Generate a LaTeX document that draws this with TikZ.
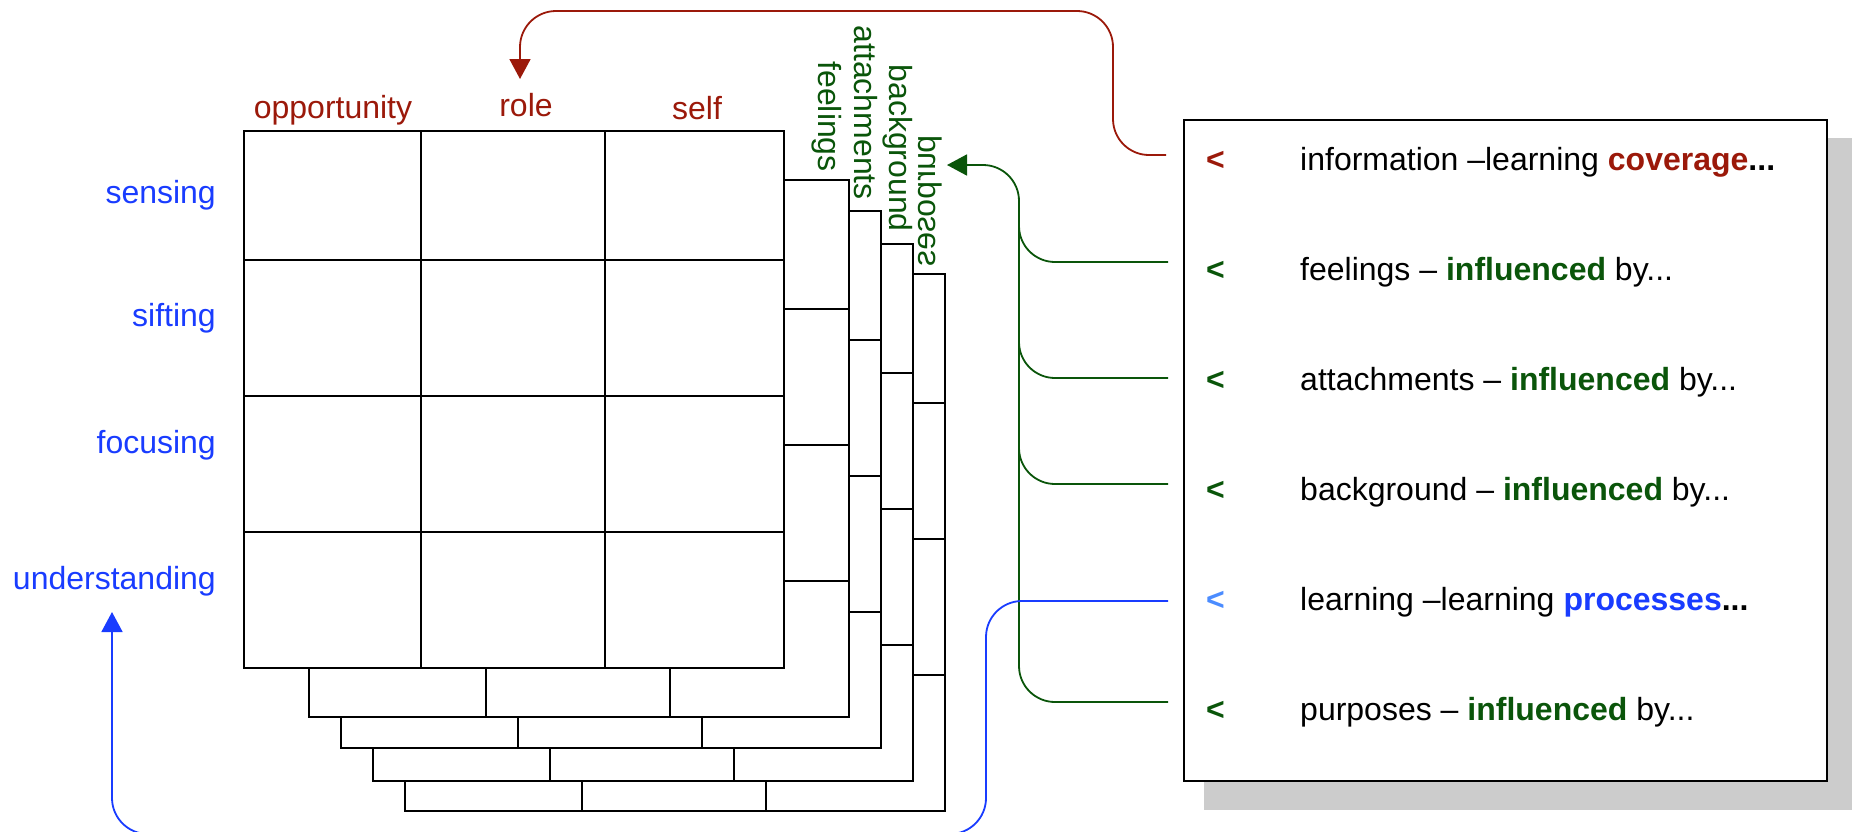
\documentclass[tikz,border=0pt]{standalone}
\usepackage{fontspec}
\setmainfont{Liberation Sans}
\usetikzlibrary{arrows.meta}
\definecolor{dred}{RGB}{155,25,10}
\definecolor{dgreen}{RGB}{10,85,10}
\definecolor{myblue}{RGB}{25,60,255}
\definecolor{lblue}{RGB}{75,140,255}
\definecolor{shadowgray}{RGB}{204,204,204}
\begin{document}
\begin{tikzpicture}[x=1pt,y=-1pt,
  gl/.style={line width=1.6pt, black},
  lbl/.style={font=\fontsize{32}{38}\selectfont, inner sep=0pt},
  conn/.style={line width=1.8pt, rounded corners=36pt},
  tip/.style={-{Triangle[length=20pt,width=21pt]}}]
\useasboundingbox (0,0) rectangle (1852,831);

% stacked grids, back to front
\foreach \ox/\oy in {405/274, 373/244, 341/211, 309/180, 244/131} {
  \begin{scope}[shift={(\ox,\oy)}]
    \filldraw[gl, fill=white] (0,0) rectangle (540,537);
    \draw[gl] (177,0) -- (177,537) (361,0) -- (361,537)
              (0,129) -- (540,129) (0,265) -- (540,265) (0,401) -- (540,401);
  \end{scope}
}

% column labels
\node[lbl, text=dred, anchor=base] (opp) at (333,118) {opportunity};
\node[lbl, text=dred, anchor=base] (role) at (526,116) {role};
\node[lbl, text=dred, anchor=base] (self) at (697,119) {self};

% row labels
\node[lbl, text=myblue, anchor=base east] (sens) at (216,203) {sensing};
\node[lbl, text=myblue, anchor=base east] (sift) at (216,326) {sifting};
\node[lbl, text=myblue, anchor=base east] (focu) at (216,453) {focusing};
\node[lbl, text=myblue, anchor=base east] (unde) at (216,589) {understanding};

% layer labels
\node[lbl, text=dgreen, rotate=-90, anchor=east] (feel) at (827,172) {feelings};
\node[lbl, text=dgreen, rotate=-90, anchor=east] (atta) at (866,200) {attachments};
\node[lbl, text=dgreen, rotate=-90, anchor=east] (back) at (898,232) {background};
\node[lbl, text=dgreen, rotate=-90, yscale=-1, anchor=east] (purp) at (930,267) {purposes};

% legend box
\fill[shadowgray] (1204,138) rectangle (1852,810);
\node[draw, line width=1.6pt, fill=white, minimum width=643pt, minimum height=661pt,
      inner sep=0pt, anchor=north west] (box) at (1183,119) {};

\node[lbl, anchor=base west, text=dred] (m1) at (1206,170) {\bfseries <};
\node[lbl, anchor=base west] (t1) at (1300,170) {information –learning \textcolor{dred}{\bfseries coverage}\textbf{...}};
\node[lbl, anchor=base west, text=dgreen] (m2) at (1206,280) {\bfseries <};
\node[lbl, anchor=base west] (t2) at (1300,280) {feelings – \textcolor{dgreen}{\bfseries influenced} by...};
\node[lbl, anchor=base west, text=dgreen] (m3) at (1206,390) {\bfseries <};
\node[lbl, anchor=base west] (t3) at (1300,390) {attachments – \textcolor{dgreen}{\bfseries influenced} by...};
\node[lbl, anchor=base west, text=dgreen] (m4) at (1206,500) {\bfseries <};
\node[lbl, anchor=base west] (t4) at (1300,500) {background – \textcolor{dgreen}{\bfseries influenced} by...};
\node[lbl, anchor=base west, text=lblue] (m5) at (1206,610) {\bfseries <};
\node[lbl, anchor=base west] (t5) at (1300,610) {learning –learning \textcolor{myblue}{\bfseries processes}\textbf{...}};
\node[lbl, anchor=base west, text=dgreen] (m6) at (1206,720) {\bfseries <};
\node[lbl, anchor=base west] (t6) at (1300,720) {purposes – \textcolor{dgreen}{\bfseries influenced} by...};

% connector ends
\coordinate (rs) at (1166,155);
\coordinate (rtip) at (520,79);
\coordinate (g1) at (1168,262);
\coordinate (g2) at (1168,378);
\coordinate (g3) at (1168,484);
\coordinate (g6) at (1168,702);
\coordinate (gtip) at (947,165);
\coordinate (bs) at (1168,601);
\coordinate (btip) at (112,612);

% connectors
\draw[conn, dred, tip] (rs) -| (1113,11) -| (rtip);
\draw[conn, dgreen, tip] (g6) -| (1019,165) -- (gtip);
\draw[conn, dgreen] (g1) -| (1019,200);
\draw[conn, dgreen] (g2) -| (1019,320);
\draw[conn, dgreen] (g3) -| (1019,420);
\draw[conn, myblue, tip] (bs) -| (986,834) -| (btip);
\end{tikzpicture}
\end{document}
